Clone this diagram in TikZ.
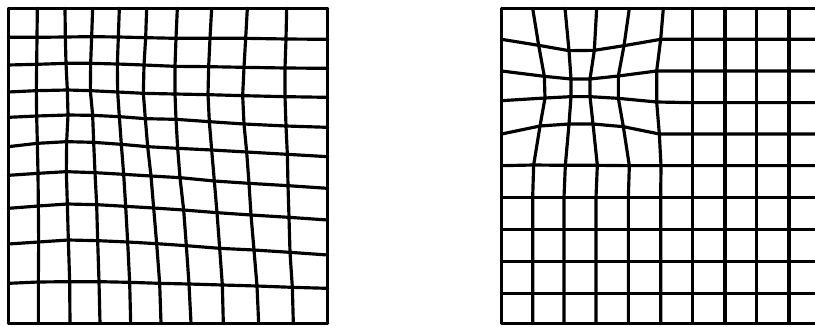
\documentclass[tikz,border=0pt]{standalone}
\usepackage{tikz}
\tikzset{meshline/.style={line width=0.95pt,line join=round,line cap=round}}
\begin{document}
\begin{tikzpicture}[x=0.1pt,y=-0.1pt]
\useasboundingbox (0,0) rectangle (2445,978);
\clip (0,0) rectangle (2445,978);
% left mesh, warped all over
\foreach \row [count=\j from 0] in {
 {25/25,112/25,195/25,278/25,358/25,440/25,532/25,635/25,742/25,860/25,983/25},
 {25/112,111/112,196/111,275/110,355/111,437/113,528/115,630/115,737/115,858/117,983/118},
 {25/195,110/193,198/190,272/190,352/192,432/195,525/199,626/200,732/202,855/204,983/205},
 {25/276,109/272,202/270,271/272,353/276,430/280,525/282,624/284,728/287,855/290,983/292},
 {25/352,110/348,204/345,278/346,358/350,436/356,528/358,628/365,732/372,858/378,983/382},
 {25/440,112/430,200/425,281/427,364/433,443/440,533/445,635/450,740/456,862/463,983/470},
 {25/526,114/520,199/515,285/518,371/523,453/528,540/533,643/543,747/550,864/557,983/565},
 {25/625,115/618,202/612,290/614,377/619,461/624,551/630,651/638,753/645,867/652,983/660},
 {25/732,116/726,205/720,293/722,383/726,470/731,559/737,659/745,762/750,870/757,983/765},
 {25/850,115/846,209/845,297/845,389/847,479/850,567/852,667/855,771/858,877/862,983/865},
 {25/970,115/970,210/970,300/970,392/970,483/970,573/970,670/970,776/970,880/970,983/970}}
 {\foreach \px/\py [count=\i from 0] in \row
   \coordinate (L-\i-\j) at (\px,\py);}
\foreach \j in {0,...,10}
 \draw[meshline] (L-0-\j) \foreach \i in {1,...,10}{-- (L-\i-\j)};
\foreach \i in {0,...,10}
 \draw[meshline] (L-\i-0) \foreach \j in {1,...,10}{-- (L-\i-\j)};
% right mesh, pinched near the upper left, runs off the edge
\begin{scope}[shift={(1470,0)}]
\foreach \row [count=\j from 0] in {
 {35/25,128/25,225/25,320/25,418/25,520/25,608/25,705/25,800/25,897/25,993/25},
 {35/118,146/136,237/152,313/151,402/137,512/118,608/118,705/118,800/118,897/118,993/118},
 {35/213,163/229,243/237,300/237,385/228,500/213,608/213,705/213,800/213,897/213,993/213},
 {35/302,165/294,243/290,300/290,385/295,500/306,608/308,705/308,800/308,897/308,993/308},
 {35/402,150/378,237/372,309/372,400/380,508/402,608/402,705/402,800/402,897/402,993/402},
 {35/497,131/495,226/496,322/496,418/497,513/497,608/497,705/497,800/497,897/497,993/497}}
 {\foreach \px/\py [count=\i from 0] in \row
   \coordinate (R-\i-\j) at (\px,\py);}
\foreach \py [count=\j from 6] in {592,688,785,880,970}
 \foreach \px [count=\i from 0] in {35,128,222,318,415,512,608,705,800,897,993}
  \coordinate (R-\i-\j) at (\px,\py);
\foreach \j in {0,...,10}
 \draw[meshline] (R-0-\j) \foreach \i in {1,...,10}{-- (R-\i-\j)};
\foreach \i in {0,...,9}
 \draw[meshline] (R-\i-0) \foreach \j in {1,...,10}{-- (R-\i-\j)};
\end{scope}
\end{tikzpicture}
\end{document}
